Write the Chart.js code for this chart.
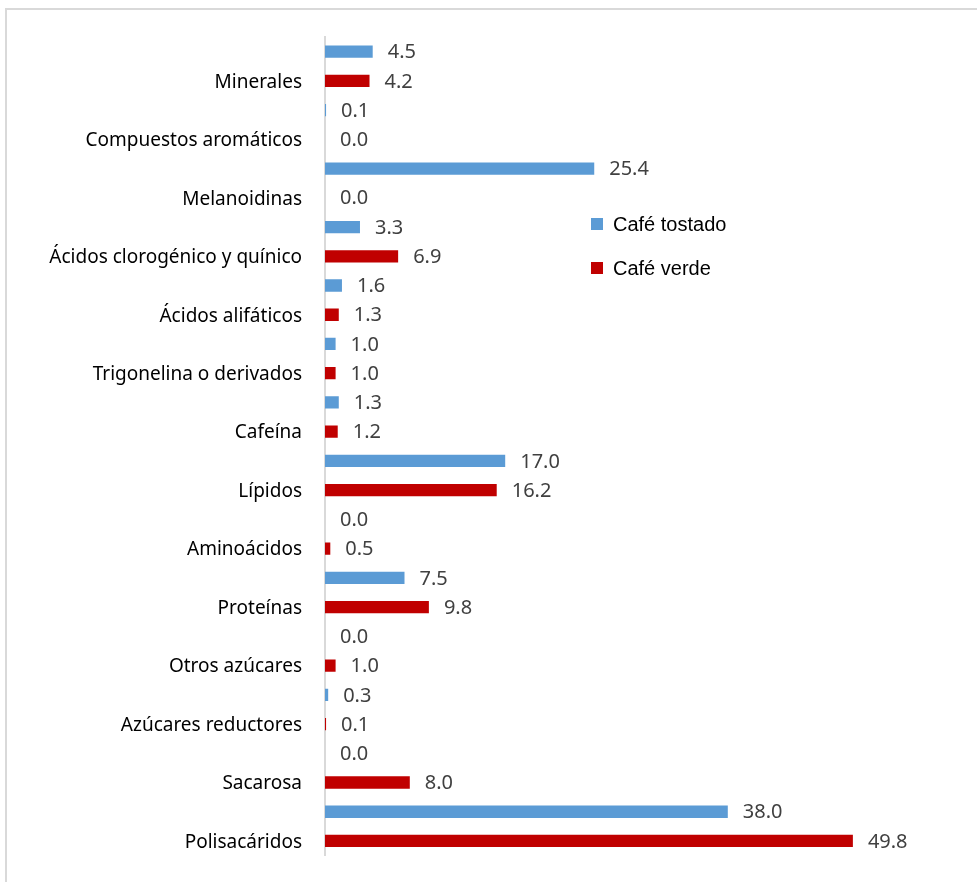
<!DOCTYPE html>
<html>
<head>
<meta charset="utf-8">
<script src="https://cdn.jsdelivr.net/npm/chart.js@4.4.1/dist/chart.umd.min.js"></script>
<style>
  html, body { margin: 0; padding: 0; background: #fff; overflow: hidden; }
  #wrap { position: relative; width: 977px; height: 882px; }
  #frame { position: absolute; left: 5px; top: 8px; width: 1000px; height: 1000px; border: 2px solid #d9d9d9; box-sizing: border-box; }
  canvas { position: absolute; left: 0; top: 0; }
</style>
</head>
<body>
<div id="wrap">
  <div id="frame"></div>
  <canvas id="myChart" width="977" height="882"></canvas>
</div>
<script>
const categories = ['Minerales', 'Compuestos aromáticos', 'Melanoidinas', 'Ácidos clorogénico y quínico',
  'Ácidos alifáticos', 'Trigonelina o derivados', 'Cafeína', 'Lípidos', 'Aminoácidos', 'Proteínas',
  'Otros azúcares', 'Azúcares reductores', 'Sacarosa', 'Polisacáridos'];
const tostado = [4.5, 0.1, 25.4, 3.3, 1.6, 1.0, 1.3, 17.0, 0.0, 7.5, 0.0, 0.3, 0.0, 38.0];
const verde   = [4.2, 0.0, 0.0, 6.9, 1.3, 1.0, 1.2, 16.2, 0.5, 9.8, 1.0, 0.1, 8.0, 49.8];

const labelFont = '"Noto Sans", sans-serif';

// value labels at the end of each bar
const valueLabels = {
  id: 'valueLabels',
  afterDatasetsDraw(chart) {
    const ctx = chart.ctx;
    ctx.save();
    ctx.font = '20px ' + labelFont;
    ctx.fillStyle = '#404040';
    ctx.textAlign = 'left';
    ctx.textBaseline = 'middle';
    chart.data.datasets.forEach((ds, i) => {
      chart.getDatasetMeta(i).data.forEach((bar, j) => {
        ctx.fillText(ds.data[j].toFixed(1), bar.x + 15, bar.y + 1);
      });
    });
    ctx.restore();
  }
};

// legend inside plot area
const boxLegend = {
  id: 'boxLegend',
  afterDraw(chart) {
    const ctx = chart.ctx;
    ctx.save();
    ctx.font = '20px "Liberation Sans", Arial, sans-serif';
    ctx.textBaseline = 'middle';
    chart.data.datasets.forEach((ds, i) => {
      const y = 224 + i * 44;
      ctx.fillStyle = ds.backgroundColor;
      ctx.fillRect(591, y - 6, 12, 12);
      ctx.fillStyle = '#000';
      ctx.fillText(ds.label, 613, y + 1);
    });
    ctx.restore();
  }
};

new Chart('myChart', {
  type: 'bar',
  data: {
    labels: categories,
    datasets: [
      { label: 'Café tostado', data: tostado, backgroundColor: '#5b9bd5' },
      { label: 'Café verde', data: verde, backgroundColor: '#c00000' }
    ]
  },
  options: {
    indexAxis: 'y',
    responsive: false,
    animation: false,
    devicePixelRatio: 1,
    layout: { padding: { left: 0, right: 16, top: 37, bottom: 26 } },
    datasets: { bar: { categoryPercentage: 1, barPercentage: 0.42 } },
    scales: {
      x: { display: false, min: 0, max: 60 },
      y: {
        grid: { display: false },
        border: { display: true, color: '#d9d9d9', width: 2 },
        ticks: { color: '#000', padding: 15, labelOffset: 16, font: { family: labelFont, size: 19 } },
        afterFit(scale) { scale.width = 325; }
      }
    },
    plugins: { legend: { display: false }, tooltip: { enabled: false } }
  },
  plugins: [valueLabels, boxLegend]
});
</script>
</body>
</html>
